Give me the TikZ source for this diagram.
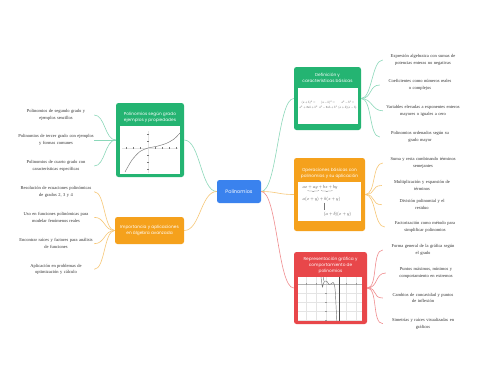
\documentclass[tikz,border=0pt]{standalone}
\usepackage{fontspec}
\setmainfont{Liberation Serif}
\newfontfamily\ttlfont{Poppins}
\usetikzlibrary{decorations.pathreplacing}
\definecolor{cgreen}{HTML}{24B472}
\definecolor{corange}{HTML}{F5A11C}
\definecolor{cred}{HTML}{E8474A}
\definecolor{cblue}{HTML}{3A82EE}
\definecolor{lgreen}{HTML}{8CD8BA}
\definecolor{lorange}{HTML}{F7C777}
\definecolor{lred}{HTML}{F08C8E}
\definecolor{gridc}{HTML}{E4E4E4}
\definecolor{plotc}{HTML}{777777}
\begin{document}
\begin{tikzpicture}[x=1pt,y=-1pt,
  topic/.style={rounded corners=2.5pt, inner sep=0pt},
  ttl/.style={text=white, font=\ttlfont\fontsize{4.3}{6}\selectfont, align=center, inner sep=0pt},
  leaf/.style={font=\fontsize{4.5}{6.6}\selectfont, align=center, inner sep=0pt, text=black!80},
  lleaf/.style={leaf, text width=76pt},
  rleaf/.style={leaf, text width=80pt},
  picbox/.style={fill=white, inner sep=0pt},
  fm/.style={inner sep=0pt, scale=0.31, text=black!75},
  fmb/.style={inner sep=0pt, scale=0.45, text=black!75},
  gl/.style={draw=lgreen, line width=0.6pt},
  ol/.style={draw=lorange, line width=0.6pt},
  rl/.style={draw=lred, line width=0.6pt},
  gridline/.style={draw=gridc, line width=0.3pt},
  plotline/.style={draw=plotc, line width=0.45pt}
]
\useasboundingbox[fill=white] (0,0) rectangle (480,384);

% ---------- center ----------
\node[topic, fill=cblue, minimum width=44pt, minimum height=23pt, text=white,
      font=\ttlfont\fontsize{5}{6}\selectfont] (c) at (239,191.5) {Polinomios};

% ---------- left green ----------
\node[topic, fill=cgreen, minimum width=68pt, minimum height=74pt] (l1) at (150,140) {};
\node[ttl] (l1t) at (150,117.5) {Polinomios según grado\\ejemplos y propiedades};
\node[picbox, minimum width=60pt, minimum height=48pt] (l1i) at (150,150) {};
\draw[gridline] (122,148) -- (178,148);
\draw[gridline] (148,131) -- (148,173);
\foreach \t in {126,133,140,155,162,169,176} \draw[plotline, line width=0.25pt] (\t,147) -- (\t,149);
\foreach \t in {134,141,155,162,169} \draw[plotline, line width=0.25pt] (147,\t) -- (149,\t);
\draw[plotline] plot[smooth] coordinates {(125,172) (132,160) (140,151.5) (148,148) (156,146.5) (166,143.5) (174,139) (180,133)};

% ---------- left orange ----------
\node[topic, fill=corange, minimum width=69pt, minimum height=27pt] (l2) at (149.5,230.5) {};
\node[ttl] (l2t) at (149.5,230.5) {Importancia y aplicaciones\\en álgebra avanzada};

% ---------- right green ----------
\node[topic, fill=cgreen, minimum width=67pt, minimum height=63pt] (r1) at (327.5,98.5) {};
\node[ttl] (r1t) at (327.5,77.5) {Definición y\\características básicas};
\node[picbox, minimum width=60pt, minimum height=36pt] (r1i) at (328,106) {};
\node[fm] (f11) at (308.5,102.5) {$(a+b)^2=$};
\node[fm] (f12) at (328,102.5) {$(a-b)^2=$};
\node[fm] (f13) at (348,102.5) {$a^2-b^2=$};
\node[fm] (f21) at (308.5,107.5) {$a^2+2ab+b^2$};
\node[fm] (f22) at (328,107.5) {$a^2-2ab+b^2$};
\node[fm] (f23) at (347.5,107.5) {$(a+b)(a-b)$};

% ---------- right orange ----------
\node[topic, fill=corange, minimum width=71pt, minimum height=73pt] (r2) at (329.5,194.5) {};
\node[ttl] (r2t) at (329.5,173) {Operaciones básicas con\\polinomios y su aplicación};
\node[picbox, minimum width=63pt, minimum height=39pt] (r2i) at (329.5,201.5) {};
\node[fmb] (m1) at (320,187.3) {$ax+ay+bx+by$};
\draw[plotc, line width=0.3pt, decorate, decoration={brace, mirror, amplitude=1.3pt}] (307.5,190.3) -- (319,190.3);
\draw[plotc, line width=0.3pt, decorate, decoration={brace, mirror, amplitude=1.3pt}] (321,190.3) -- (332.5,190.3);
\node[fmb] (m2) at (321.5,199) {$a(x+y)+b(x+y)$};
\draw[plotc, line width=0.3pt] (323.7,202.5) -- (323.7,209.5);
\node[fmb] (m3) at (337.5,214.3) {$(a+b)(x+y)$};

% ---------- right red ----------
\node[topic, fill=cred, minimum width=73pt, minimum height=72pt] (r3) at (330.5,288) {};
\node[ttl] (r3t) at (330.5,265) {Representación gráfica y\\comportamiento de\\polinomios};
\node[picbox, minimum width=64pt, minimum height=44pt] (r3i) at (330,299) {};
\foreach \gx in {306,316,326,346,356} \draw[gridline] (\gx,277) -- (\gx,321);
\foreach \gy in {293,302,311,320} \draw[gridline] (298,\gy) -- (362,\gy);
\draw[draw=black!30, line width=0.35pt] (298,284) -- (362,284);
\foreach \gx in {306,316,346,356} \draw[draw=black!40, line width=0.25pt] (\gx,283) -- (\gx,285);
\foreach \gy in {293,302,311,320} \draw[draw=black!40, line width=0.25pt] (325,\gy) -- (327,\gy);
\draw[draw=black!70, line width=0.45pt] (339,277) -- (339,321);
\draw[plotline] plot[smooth] coordinates {(321,277) (321.8,283) (322.5,287) (323.5,283) (325,281) (327,281.5) (329,284.5) (331,284) (333,282.5) (334.5,285) (335.3,292) (336,305) (336.8,321)};
\draw[plotline] (323.5,277) -- (323.8,281);

% ---------- center connectors ----------
\draw[gl] (c.west) .. controls +(-16,0) and +(16,0) .. (l1.east);
\draw[ol] (c.west) .. controls +(-16,0) and +(16,0) .. (l2.east);
\draw[gl] (c.east) .. controls +(16,0) and +(-16,0) .. (r1.west);
\draw[ol] (c.east) .. controls +(16,0) and +(-16,0) .. (r2.west);
\draw[rl] (c.east) .. controls +(16,0) and +(-16,0) .. (r3.west);

% ---------- left green leaves ----------
\node[lleaf] (a1) at (56,115) {Polinomios de segundo grado y\\ejemplos sencillos};
\node[lleaf] (a2) at (56,140) {Polinomios de tercer grado con ejemplos\\y formas comunes};
\node[lleaf] (a3) at (56,166) {Polinomios de cuarto grado con\\características específicas};
\foreach \n in {a1,a2,a3} \draw[gl] (l1.west) .. controls +(-11,0) and +(11,0) .. (\n.east);

% ---------- left orange leaves ----------
\node[lleaf] (b1) at (56,191.7) {Resolución de ecuaciones polinómicas\\de grados 2, 3 y 4};
\node[lleaf] (b2) at (56,217.3) {Uso en funciones polinómicas para\\modelar fenómenos reales};
\node[lleaf] (b3) at (56,243.7) {Encontrar raíces y factores para análisis\\de funciones};
\node[lleaf] (b4) at (56,269.3) {Aplicación en problemas de\\optimización y cálculo};
\foreach \n in {b1,b2,b3,b4} \draw[ol] (l2.west) .. controls +(-11,0) and +(11,0) .. (\n.east);

% ---------- right green leaves ----------
\node[rleaf] (d1) at (423,60) {Expresión algebraica con sumas de\\potencias enteras no negativas};
\node[rleaf] (d2) at (420,85) {Coeficientes como números reales\\o complejos};
\node[rleaf] (d3) at (423,110.8) {Variables elevadas a exponentes enteros\\mayores o iguales a cero};
\node[rleaf] (d4) at (420,137) {Polinomios ordenados según su\\grado mayor};
\foreach \n in {d1,d2,d3,d4} \draw[gl] (r1.east) .. controls +(11,0) and +(-11,0) .. (\n.west);

% ---------- right orange leaves ----------
\node[rleaf] (e1) at (423,163) {Suma y resta combinando términos\\semejantes};
\node[rleaf] (e2) at (422,185.5) {Multiplicación y expansión de\\términos};
\node[rleaf] (e3) at (422,204.7) {División polinomial y el\\residuo};
\node[rleaf] (e4) at (425,227) {Factorización como método para\\simplificar polinomios};
\foreach \n in {e1,e2,e3,e4} \draw[ol] (r2.east) .. controls +(11,0) and +(-11,0) .. (\n.west);

% ---------- right red leaves ----------
\node[rleaf] (g1) at (423,250) {Forma general de la gráfica según\\el grado};
\node[rleaf] (g2) at (426,273) {Puntos máximos, mínimos y\\comportamiento en extremos};
\node[rleaf] (g3) at (423,298) {Cambios de concavidad y puntos\\de inflexión};
\node[rleaf] (g4) at (423,323.7) {Simetrías y raíces visualizadas en\\gráficos};
\foreach \n in {g1,g2,g3,g4} \draw[rl] (r3.east) .. controls +(11,0) and +(-11,0) .. (\n.west);
\end{tikzpicture}
\end{document}
